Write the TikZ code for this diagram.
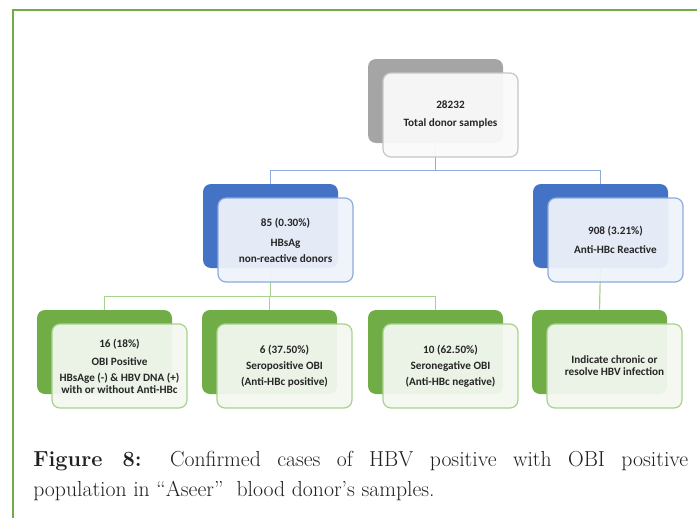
\documentclass[tikz,border=0pt]{standalone}
\usepackage{fontspec}
\newfontfamily\boxfont{Carlito}
\usetikzlibrary{positioning,calc}

\definecolor{frameGreen}{HTML}{70AD47}
\definecolor{grayBack}{HTML}{A5A5A5}
\definecolor{grayLine}{HTML}{C6C6C6}
\definecolor{grayFill}{HTML}{FAFAFA}
\definecolor{blueBack}{HTML}{4472C4}
\definecolor{blueLine}{HTML}{8FAADC}
\definecolor{blueFill}{HTML}{EEF2FA}
\definecolor{greenBack}{HTML}{70AD47}
\definecolor{greenLine}{HTML}{A9D18E}
\definecolor{greenFill}{HTML}{F3F8F0}
\definecolor{capText}{HTML}{231F20}

\begin{document}
\begin{tikzpicture}[x=0.75pt, y=-0.75pt,
    back/.style={rounded corners=6pt, minimum width=101.25pt, minimum height=63pt, inner sep=0pt},
    front/.style={draw, line width=0.9pt, rounded corners=6pt, minimum width=101.25pt, minimum height=63pt,
        inner sep=0pt, align=center, xshift=11.25pt, yshift=-10.5pt, fill opacity=0.94, text opacity=1,
        text=black!85, font=\boxfont\bfseries\fontsize{8.4}{9}\selectfont},
    link/.style={line width=0.9pt}
]
\useasboundingbox (0,0) rectangle (697,518);
% frame of the figure
\draw[frameGreen, line width=1.5pt] (697,9.5) -- (12.5,9.5) -- (12.5,518);

% back boxes
\node[back, fill=grayBack] (topB) at (435.5,101) {};
\node[back, fill=blueBack] (hbsB) at (270.5,226) {};
\node[back, fill=blueBack] (hbcB) at (600.5,226) {};
\node[back, fill=greenBack] (obiB) at (104.5,352) {};
\node[back, fill=greenBack] (seroPB) at (269.5,352) {};
\node[back, fill=greenBack] (seroNB) at (435.5,352) {};
\node[back, fill=greenBack] (chronB) at (599.5,352) {};

% links
\draw[link, blueLine] (topB.south) -- ++(0,27) -| (hbsB.north);
\draw[link, blueLine] (topB.south) -- ++(0,27) -| (hbcB.north);
\draw[link, greenLine] (hbsB.south) -- ++(0,28) -| (obiB.north);
\draw[link, greenLine] (hbsB.south) -- ++(0,28) -| (seroPB.north);
\draw[link, greenLine] (hbsB.south) -- ++(0,28) -| (seroNB.north);
\draw[link, greenLine] (hbcB.south) -- (chronB.north);

% front boxes
\node[front, draw=grayLine, fill=grayFill] (top) at (topB) {28232\\[4.5pt]Total donor samples};
\node[front, draw=blueLine, fill=blueFill] (hbs) at (hbsB) {85 (0.30\%)\\[6pt]HBsAg\\[3pt]non-reactive donors};
\node[front, draw=blueLine, fill=blueFill] (hbc) at (hbcB) {908 (3.21\%)\\[5.25pt]Anti-HBc Reactive};
\node[front, draw=greenLine, fill=greenFill] (obi) at (obiB) {16 (18\%)\\[4.5pt]OBI Positive\\[3pt]HBsAge (-) \& HBV DNA (+)\\with or without Anti-HBc};
\node[front, draw=greenLine, fill=greenFill] (seroP) at (seroPB) {6 (37.50\%)\\[3pt]Seropositive OBI\\[3pt](Anti-HBc positive)};
\node[front, draw=greenLine, fill=greenFill] (seroN) at (seroNB) {10 (62.50\%)\\[3pt]Seronegative OBI\\[3pt](Anti-HBc negative)};
\node[front, draw=greenLine, fill=greenFill] (chron) at (chronB) {Indicate chronic or\\resolve HBV infection};

% caption
\node[anchor=north west, inner sep=0pt, text width=491.25pt, align=justify, text=capText,
    font=\fontsize{16.3}{22.5}\selectfont] (caption) at (33,451)
    {\textbf{Figure 8:} Confirmed cases of HBV positive with OBI positive\linebreak
     population in ``Aseer''\ \ blood donor's samples.};
\end{tikzpicture}
\end{document}
